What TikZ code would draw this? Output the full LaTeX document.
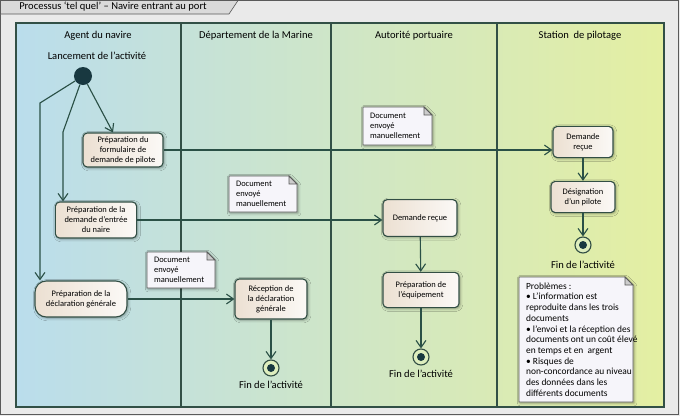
\documentclass[tikz,border=0pt]{standalone}
\usepackage{fontspec}
\setmainfont{Carlito}
\usetikzlibrary{arrows.meta,shadows.blur,positioning,calc}

\definecolor{laneblue}{RGB}{186,221,236}
\definecolor{lanegreen}{RGB}{199,229,206}
\definecolor{laneyellow}{RGB}{228,239,162}
\definecolor{laneline}{RGB}{50,80,70}
\definecolor{flowline}{RGB}{42,80,70}
\definecolor{actfill}{RGB}{236,224,210}
\definecolor{actborder}{RGB}{50,78,68}
\definecolor{notefill}{RGB}{246,245,250}
\definecolor{startfill}{RGB}{24,56,64}
\definecolor{endfill}{RGB}{222,238,190}
\definecolor{framebg}{RGB}{234,234,234}
\definecolor{tabbg}{RGB}{218,218,218}
\definecolor{framedark}{RGB}{90,90,90}

\newcommand{\entete}{\fontsize{7.5}{9}\selectfont}
\newcommand{\petit}{\fontsize{6}{7.1}\selectfont}
\newcommand{\moyen}{\fontsize{6.7}{7.6}\selectfont}

% note with folded corner: [options], name, x1, y1, x2, y2, text
\newcommand{\feuille}[7][]{%
  \draw[notebd, fill=notefill, ombre] (#3,#4) -- (#5-8,#4) -- (#5,#4+8) -- (#5,#6) -- (#3,#6) -- cycle;
  \draw[notebd, fill=gray!40] (#5-8,#4) -- (#5-8,#4+8) -- (#5,#4+8) -- cycle;
  \node[note, anchor=west, #1] (#2) at (#3+4,{(#4+#6)/2}) {#7};}

\begin{document}
\begin{tikzpicture}[x=0.025cm, y=-0.025cm,
    lane/.style={draw=laneline, thick},
    ombre/.style={blur shadow={shadow blur steps=4, shadow xshift=0.8pt, shadow yshift=-0.8pt, shadow opacity=35}},
    activite/.style={draw=actborder, thick, rounded corners=3pt, left color=actfill, right color=actfill!20!white,
      align=center, font=\petit, inner sep=2pt, ombre},
    note/.style={align=left, font=\petit, inner sep=2pt},
    notebd/.style={draw=framedark, semithick},
    flow/.style={draw=flowline, thick, -{Straight Barb[length=5pt,width=7pt]}},
    debut/.style={circle, fill=startfill, minimum size=0.45cm, inner sep=0pt},
    fin/.style={circle, draw=actborder, thick, fill=endfill, minimum size=0.4cm, inner sep=0pt,
      path picture={\fill[startfill] (path picture bounding box.center) circle (0.1cm);}}]

    \useasboundingbox (0,0) rectangle (680,416);

    \fill[framebg] (0,0) rectangle (680,416);
    \draw[framedark] (0.5,0.5) rectangle (678,414);
    \draw[framedark, fill=tabbg] (0.5,0.5) -- (238,0.5) -- (229,14) -- (0.5,14) -- cycle;
    \shade[left color=laneblue, middle color=lanegreen, right color=laneyellow] (16,23) rectangle (664,407);
    \draw[lane] (16,23) rectangle (664,407);
    \foreach \x in {181,331,497}
      \draw[lane] (\x,23) -- (\x,407);

    \node[font=\entete] (titre) at (113,7) {Processus ‘tel quel’ – Navire entrant au port};

    \node[font=\entete] (hAgent) at (98,36) {Agent du navire};
    \node[font=\entete] (hMarine) at (256,36) {Département de la Marine};
    \node[font=\entete] (hAutorite) at (414,36) {Autorité portuaire};
    \node[font=\entete] (hStation) at (580,36) {Station\ \ de pilotage};

    \node[font=\entete] (lancement) at (97,56) {Lancement de l’activité};
    \node[debut] (start) at (83,76) {};

    \node[activite, minimum width=2cm, minimum height=0.85cm] (form) at (123,150)
      {Préparation du\\formulaire de\\demande de pilote};
    \node[activite, minimum width=2.03cm, minimum height=0.9cm] (entree) at (96,220)
      {Préparation de la\\demande d’entrée\\du naire};
    \node[activite, rounded corners=8pt, minimum width=2.3cm, minimum height=0.9cm] (decl) at (81,299)
      {Préparation de la\\déclaration générale};

    \node[activite, minimum width=1.8cm, minimum height=1cm] (recep) at (271,299)
      {Réception de\\la déclaration\\générale};
    \node[fin] (fin1) at (271,368) {};
    \node[font=\entete] (lfin1) at (271,385) {Fin de l’activité};

    \node[activite, minimum width=1.85cm, minimum height=0.92cm] (dem3) at (420,218) {Demande reçue};
    \node[activite, minimum width=1.9cm, minimum height=0.88cm] (equip) at (421,290)
      {Préparation de\\l’équipement};
    \node[fin] (fin2) at (421,357) {};
    \node[font=\entete] (lfin2) at (421,374) {Fin de l’activité};

    \node[activite, minimum width=1.5cm, minimum height=0.78cm] (dem4) at (583,142) {Demande\\reçue};
    \node[activite, minimum width=1.6cm, minimum height=0.78cm] (design) at (583,197)
      {Désignation\\d’un pilote};
    \node[fin] (fin3) at (583,245) {};
    \node[font=\entete] (lfin3) at (583,265) {Fin de l’activité};

    \feuille{n1}{147}{252}{215}{288}{Document\\envoyé\\manuellement}
    \feuille{n2}{229}{176}{297}{212}{Document\\envoyé\\manuellement}
    \feuille{n3}{363}{107}{432}{145}{Document\\envoyé\\manuellement}
    \feuille[font=\moyen]{n4}{519}{277}{633}{402}{Problèmes :\\• L’information est\\reproduite dans les trois\\documents\\• l’envoi et la réception des\\documents ont un coût élevé\\en temps et en\ \ argent\\• Risques de\\non-concordance au niveau\\des données dans les\\différents documents}

    \coordinate (coudeA) at (63,132);
    \coordinate (coudeB) at (40,103);
    \draw[flow] (start) -- ([xshift=-0.25cm]form.north);
    \draw[flow] (start) -- (coudeA) -- (coudeA |- entree.north);
    \draw[flow] (start) -- (coudeB) -- (coudeB |- decl.north);

    \draw[flow] (form.east) -- (form.east -| dem4.west);
    \draw[flow] (entree.east) -- (entree.east -| dem3.west);
    \draw[flow] (decl.east) -- (recep.west);

    \draw[flow] (recep) -- (fin1);
    \draw[flow] (dem3) -- (equip);
    \draw[flow] (equip) -- (fin2);
    \draw[flow] (dem4) -- (design);
    \draw[flow] (design) -- (fin3);
\end{tikzpicture}
\end{document}
